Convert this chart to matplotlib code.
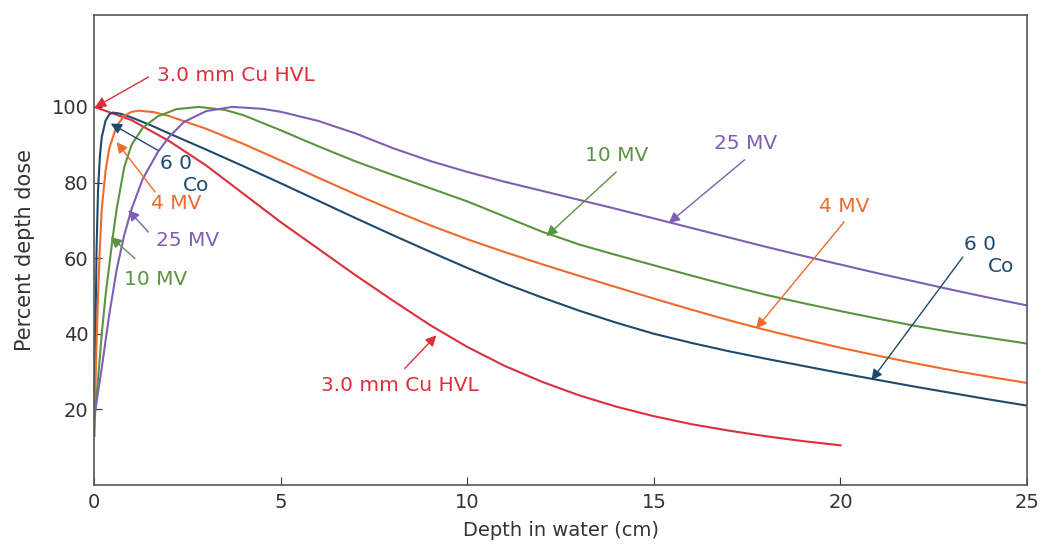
import matplotlib.pyplot as plt

# depth (cm) and percent depth dose
cu_depth = [0, 1, 2, 3, 4, 5, 6, 7, 8, 9, 10, 11, 12, 13, 14, 15, 16, 17, 18, 19, 20]
cu_dose = [100, 96.5, 91, 84.5, 77, 69.5, 62.5, 55.5, 48.8, 42.3, 36.5, 31.5, 27.3,
           23.7, 20.7, 18.2, 16.1, 14.4, 12.9, 11.6, 10.5]

co_depth = [0, 0.03, 0.06, 0.1, 0.15, 0.2, 0.3, 0.4, 0.5, 0.7, 1, 1.5, 2, 3, 4, 5, 6,
            7, 8, 9, 10, 11, 12, 13, 14, 15, 16, 17, 18, 19, 20, 21, 22, 23, 24, 25]
co_dose = [13, 40, 62, 78, 87, 92, 96.3, 98, 98.5, 98.2, 97.2, 95.2, 93, 88.7, 84.3,
           79.8, 75.2, 70.6, 66.1, 61.7, 57.4, 53.3, 49.6, 46.1, 42.9, 40.0, 37.6,
           35.4, 33.4, 31.5, 29.6, 27.8, 26.0, 24.3, 22.6, 21.0]

mv4_depth = [0, 0.05, 0.1, 0.15, 0.2, 0.3, 0.4, 0.6, 0.8, 1.0, 1.2, 1.6, 2, 3, 4, 5,
             6, 7, 8, 9, 10, 11, 12, 13, 14, 15, 16, 17, 18, 19, 20, 21, 22, 23, 24, 25]
mv4_dose = [15, 34, 50, 63, 73, 83, 89, 95, 97.6, 98.7, 99, 98.6, 97.6, 94.2, 90.2,
            85.8, 81.3, 76.9, 72.7, 68.7, 65, 61.6, 58.4, 55.3, 52.3, 49.3, 46.4, 43.6,
            41, 38.6, 36.3, 34.2, 32.2, 30.3, 28.6, 27]

mv10_depth = [0, 0.1, 0.2, 0.3, 0.4, 0.5, 0.6, 0.8, 1.0, 1.3, 1.7, 2.2, 2.8, 3.5, 4,
              5, 6, 7, 8, 9, 10, 11, 12, 13, 14, 15, 16, 17, 18, 19, 20, 21, 22, 23,
              24, 25]
mv10_dose = [17, 28, 40, 50, 58, 66, 73, 84, 90, 94.5, 97.5, 99.4, 100, 99.2, 97.8,
             93.8, 89.6, 85.6, 82, 78.5, 75, 71, 67, 63.6, 60.8, 58.1, 55.4, 52.8, 50.3,
             48.1, 46, 44, 42.1, 40.4, 38.9, 37.4]

mv25_depth = [0, 0.2, 0.4, 0.6, 0.8, 1.0, 1.3, 1.7, 2.0, 2.4, 3.0, 3.7, 4.5, 5, 6, 7,
              8, 9, 10, 11, 12, 13, 14, 15, 16, 17, 18, 19, 20, 21, 22, 23, 24, 25]
mv25_dose = [18, 31, 45, 57, 66, 73, 81, 88, 92, 96, 98.9, 100, 99.5, 98.7, 96.3, 93,
             89.1, 85.7, 82.8, 80.2, 77.8, 75.4, 73, 70.5, 68, 65.5, 63, 60.6, 58.3,
             56, 53.8, 51.6, 49.5, 47.5]

RED = "#dc2f3c"
NAVY = "#1f4a70"
ORANGE = "#ef6a2c"
GREEN = "#5b9440"
PURPLE = "#7f5fb5"


def label(ax, text, pos, tail, tip, color, ha="center"):
    ax.annotate("", xy=tip, xytext=tail,
                arrowprops=dict(arrowstyle="-|>", color=color, lw=1.0,
                                mutation_scale=16, shrinkA=0, shrinkB=0))
    ax.text(pos[0], pos[1], text, color=color, fontsize=14.5,
            ha=ha, va="center")


def main():
    fig = plt.figure(figsize=(10.42, 5.46), dpi=100)
    ax = fig.add_axes([0.0905, 0.1117, 0.8951, 0.8608])

    ax.plot(cu_depth, cu_dose, color=RED, lw=1.5)
    ax.plot(co_depth, co_dose, color=NAVY, lw=1.5)
    ax.plot(mv4_depth, mv4_dose, color=ORANGE, lw=1.5)
    ax.plot(mv10_depth, mv10_dose, color=GREEN, lw=1.5)
    ax.plot(mv25_depth, mv25_dose, color=PURPLE, lw=1.5)

    ax.set_xlim(0, 25)
    ax.set_ylim(0, 124.3)
    ax.set_xticks([0, 5, 10, 15, 20, 25])
    ax.set_yticks([20, 40, 60, 80, 100])
    ax.tick_params(direction="in", length=6, labelsize=14, colors="#333333")
    ax.tick_params(axis="x", pad=6)
    ax.tick_params(axis="y", pad=4)
    for s in ax.spines.values():
        s.set_color("#555555")
        s.set_linewidth(1.2)
    ax.set_xlabel("Depth in water (cm)", fontsize=14, color="#333333", labelpad=6)
    ax.set_ylabel("Percent depth dose", fontsize=15, color="#333333", labelpad=12)

    # left side labels
    label(ax, "3.0 mm Cu HVL", (1.67, 108.3), (1.45, 107.9), (0.02, 99.9), RED,
          ha="left")
    label(ax, "6 0", (2.19, 85.0), (1.71, 88.5), (0.44, 95.6), NAVY)
    ax.text(2.72, 79.3, "Co", color=NAVY, fontsize=14.5, ha="center", va="center")
    label(ax, "4 MV", (2.2, 74.4), (1.63, 77.5), (0.6, 90.7), ORANGE)
    label(ax, "25 MV", (2.5, 64.7), (1.45, 66.9), (0.91, 72.7), PURPLE)
    label(ax, "10 MV", (1.65, 54.4), (1.09, 59.9), (0.44, 65.6), GREEN)

    # right side labels
    label(ax, "10 MV", (14.0, 87.2), (13.99, 82.8), (12.12, 65.8), GREEN)
    label(ax, "25 MV", (17.46, 90.4), (17.43, 86.0), (15.4, 69.3), PURPLE)
    label(ax, "4 MV", (20.1, 73.7), (20.1, 69.6), (17.74, 41.4), ORANGE)
    label(ax, "6 0", (23.75, 63.7), (23.28, 60.3), (20.83, 27.7), NAVY)
    ax.text(24.3, 57.7, "Co", color=NAVY, fontsize=14.5, ha="center", va="center")
    label(ax, "3.0 mm Cu HVL", (8.19, 26.2), (8.32, 30.8), (9.17, 39.6), RED)

    fig.savefig("out.png", dpi=100)


if __name__ == "__main__":
    main()
